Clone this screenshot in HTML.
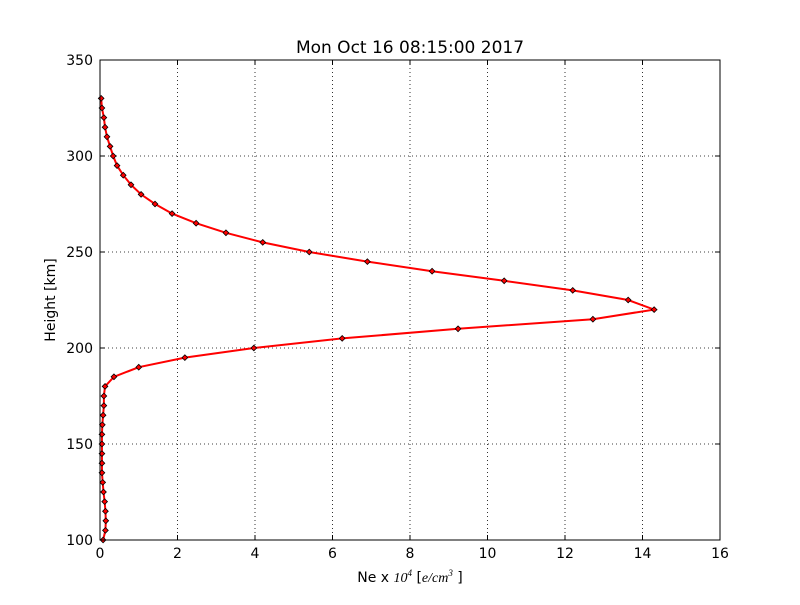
<!DOCTYPE html>
<html><head><meta charset="utf-8"><style>
body{margin:0;background:#fff;}
svg{font-family:"DejaVu Sans","Liberation Sans",sans-serif;}
</style></head><body>
<svg id="chart" width="800" height="600">
<rect width="800" height="600" fill="#fff"/>
<text x="410" y="53" text-anchor="middle" font-size="17">Mon Oct 16 08:15:00 2017</text>
<text transform="translate(55,300) rotate(-90)" text-anchor="middle" font-size="14">Height [km]</text>
<text x="410" y="582" text-anchor="middle" font-size="14">Ne x <tspan font-style="italic" font-family="Liberation Serif" font-size="14">10<tspan font-size="9" dy="-6">4</tspan></tspan><tspan dy="6">  [</tspan><tspan font-style="italic" font-family="Liberation Serif">e/cm<tspan font-size="9" dy="-6">3</tspan></tspan><tspan dy="6"> ]</tspan></text>
<g id="grid"></g><g id="ticks"></g><g id="series"></g>
<rect x="100" y="60" width="620" height="480" fill="none" stroke="#000" stroke-width="1"/>
</svg>
<script>
const heights=[100,105,110,115,120,125,130,135,140,145,150,155,160,165,170,175,180,185,190,195,200,205,210,215,220,225,230,235,240,245,250,255,260,265,270,275,280,285,290,295,300,305,310,315,320,325,330];
const neValues=[0.08,0.14,0.15,0.14,0.12,0.09,0.07,0.05,0.05,0.05,0.05,0.05,0.06,0.08,0.1,0.1,0.13,0.36,1.0,2.19,3.97,6.25,9.24,12.72,14.3,13.63,12.2,10.43,8.57,6.9,5.4,4.2,3.25,2.48,1.86,1.42,1.06,0.8,0.6,0.44,0.34,0.26,0.18,0.13,0.1,0.05,0.03];
const xTicks=[0,2,4,6,8,10,12,14,16];
const yTicks=[100,150,200,250,300,350];
const X=v=>100+v/16*620, Y=v=>540-(v-100)/250*480;
const NS="http://www.w3.org/2000/svg";
function mk(t,a,p){const e=document.createElementNS(NS,t);for(const k in a)e.setAttribute(k,a[k]);p.appendChild(e);return e;}
const g=document.getElementById('grid'),tk=document.getElementById('ticks'),s=document.getElementById('series');
xTicks.forEach(v=>{
 const l=mk('line',{x1:X(v),x2:X(v),y1:60,y2:540,stroke:'#000','stroke-dasharray':'1,3','stroke-width':0.8},g);
 
 
 const t=mk('text',{x:X(v),y:558,'text-anchor':'middle','font-size':14},tk);t.textContent=v;
 
 
 mk('line',{x1:X(v),x2:X(v),y1:540,y2:535,stroke:'#000'},tk);
 mk('line',{x1:X(v),x2:X(v),y1:60,y2:65,stroke:'#000'},tk);
});
yTicks.forEach(v=>{
 const l=mk('line',{x1:100,x2:720,y1:Y(v),y2:Y(v),stroke:'#000','stroke-dasharray':'1,3','stroke-width':0.8},g);
 
 
 const t=mk('text',{x:93,y:Y(v)+5,'text-anchor':'end','font-size':14},tk);t.textContent=v;
 
 
 mk('line',{x1:100,x2:105,y1:Y(v),y2:Y(v),stroke:'#000'},tk);
 mk('line',{x1:715,x2:720,y1:Y(v),y2:Y(v),stroke:'#000'},tk);
});
const pts=heights.map((h,i)=>X(neValues[i])+','+Y(h)).join(' ');
const pl=mk('polyline',{points:pts,fill:'none',stroke:'#f00','stroke-width':2},s);


heights.forEach((h,i)=>{
 const c=mk('rect',{x:X(neValues[i])-2,y:Y(h)-2,width:4,height:4,fill:'#f00',stroke:'#000','stroke-width':0.8,transform:`rotate(45 ${X(neValues[i])} ${Y(h)})`},s);
 
 
});
</script>
</body></html>
